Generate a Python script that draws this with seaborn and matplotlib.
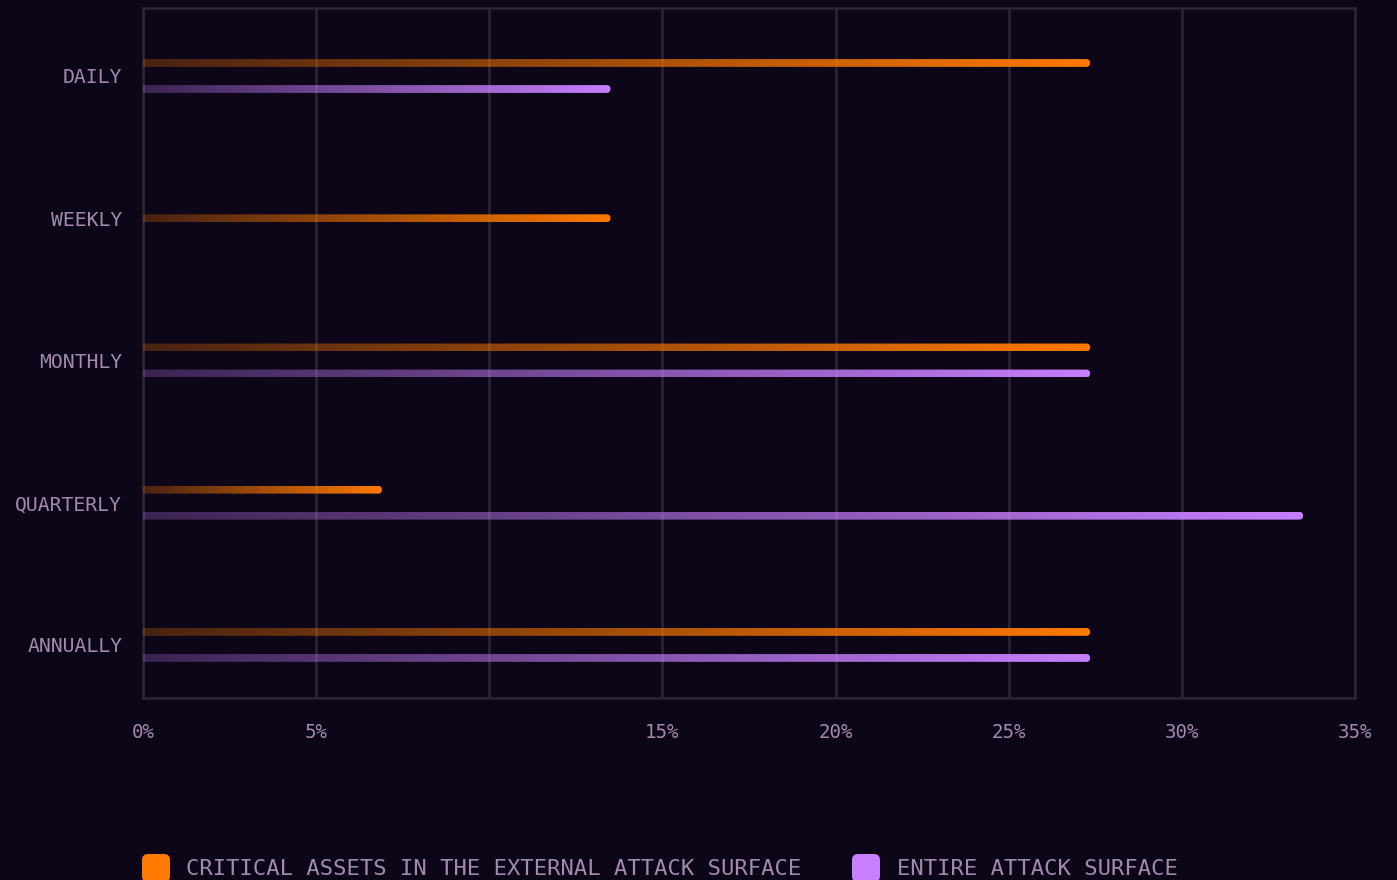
import numpy as np
import pandas as pd
import seaborn as sns
import matplotlib.pyplot as plt
from matplotlib.colors import to_rgb
from matplotlib.patches import FancyBboxPatch
from matplotlib.transforms import IdentityTransform

# data
periods = ["DAILY", "WEEKLY", "MONTHLY", "QUARTERLY", "ANNUALLY"]
critical_pct = [27.35, 13.5, 27.35, 6.9, 27.35]
entire_pct = [13.5, np.nan, 27.35, 33.5, 27.35]
series_names = ["CRITICAL ASSETS IN THE EXTERNAL ATTACK SURFACE", "ENTIRE ATTACK SURFACE"]
x_ticks = [0, 5, 10, 15, 20, 25, 30, 35]
x_tick_labels = ["0%", "5%", "", "15%", "20%", "25%", "30%", "35%"]

bg = "#0d0618"
grid_c = "#2b2535"
text_c = "#a08caa"
colors = ["#ff7a00", "#c880ff"]

df = pd.DataFrame({
    "period": periods * 2,
    "pct": critical_pct + entire_pct,
    "series": [series_names[0]] * len(periods) + [series_names[1]] * len(periods),
})

sns.set_style("dark", {"axes.facecolor": bg, "figure.facecolor": bg})
plt.rcParams["font.family"] = ["DejaVu Sans Mono", "DejaVu Sans"]

W, H = 1397, 880
fig = plt.figure(figsize=(W / 100, H / 100), dpi=100, facecolor=bg)
ax = fig.add_axes([143 / W, 1 - 698 / H, (1355 - 143) / W, (698 - 8) / H])

sns.barplot(data=df, x="pct", y="period", hue="series", order=periods,
            hue_order=series_names, palette=colors, saturation=1, orient="h",
            width=0.366, gap=0.7, errorbar=None, legend=False, ax=ax)

xlim = (0, 35)
ylim = (4.373, -0.478)
ax_w_px = 1355 - 143
ax_h_px = 698 - 8
asp = ((ylim[0] - ylim[1]) / ax_h_px) / ((xlim[1] - xlim[0]) / ax_w_px)

# group bars per category so a lone bar can be centred
bars = []
for p in list(ax.patches):
    w = p.get_width()
    if not np.isfinite(w) or w <= 0:
        p.set_visible(False)
        continue
    bars.append(p)
counts = {}
for p in bars:
    cat = int(round(p.get_y() + p.get_height() / 2))
    counts[cat] = counts.get(cat, 0) + 1

for p in bars:
    w = p.get_width()
    h = p.get_height()
    yc = p.get_y() + h / 2
    cat = int(round(yc))
    if counts[cat] == 1:
        yc = cat
    rgb = to_rgb(p.get_facecolor())
    p.set_visible(False)

    # fade from dim at 0 to full colour at the bar end
    grad = np.zeros((1, 256, 4))
    grad[..., :3] = rgb
    grad[..., 3] = np.linspace(0.25, 1.0, 256)
    im = ax.imshow(grad, extent=(0, w, yc + h / 2, yc - h / 2), aspect="auto",
                   interpolation="bilinear", zorder=3)
    r = h / 2 / asp
    clip = FancyBboxPatch((-r, yc - h / 2), w + r, h,
                          boxstyle=f"round,pad=0,rounding_size={r}",
                          mutation_aspect=asp, transform=ax.transData)
    im.set_clip_path(clip)

ax.set_xlim(*xlim)
ax.set_ylim(*ylim)
ax.set_xticks(x_ticks)
ax.set_xticklabels(x_tick_labels)
ax.set_xlabel("")
ax.set_ylabel("")
ax.xaxis.grid(True, color=grid_c, linewidth=1.8)
ax.yaxis.grid(False)
ax.set_axisbelow(True)
for s in ax.spines.values():
    s.set_visible(True)
    s.set_color(grid_c)
    s.set_linewidth(1.8)
ax.tick_params(axis="x", length=0, pad=18, labelsize=13.8, labelcolor=text_c)
ax.tick_params(axis="y", length=0, pad=15, labelsize=14.2, labelcolor=text_c)

# legend at the bottom, partly cut by the figure edge
for x_sq, x_txt, c, name in [(142, 186, colors[0], series_names[0]),
                             (852, 897, colors[1], series_names[1])]:
    sq = FancyBboxPatch((x_sq, H - 854 - 28), 28, 28,
                        boxstyle="round,pad=0,rounding_size=6",
                        facecolor=c, edgecolor="none", transform=IdentityTransform())
    fig.add_artist(sq)
    fig.text(x_txt / W, 1 - 875 / H, name, color=text_c, fontsize=15.9,
             ha="left", va="baseline")

fig.savefig("out.png", dpi=100, facecolor=bg)
